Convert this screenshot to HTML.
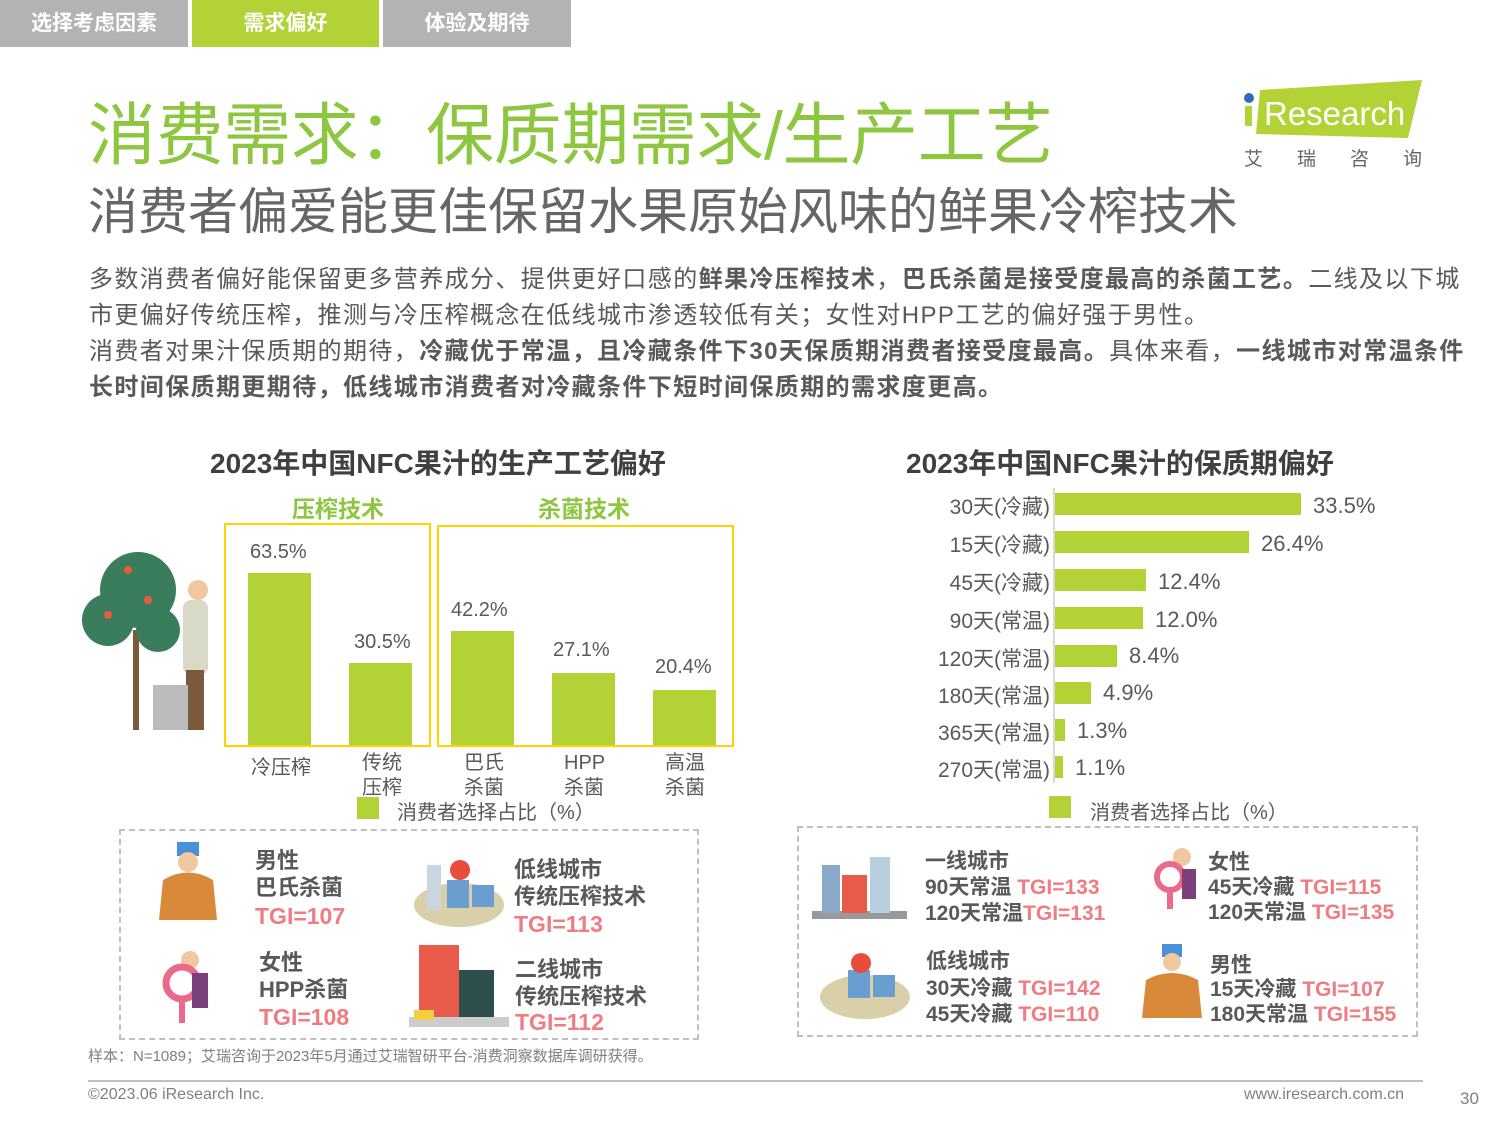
<!DOCTYPE html>
<html><head><meta charset="utf-8"><style>
*{margin:0;padding:0;box-sizing:border-box}
body{width:1500px;height:1125px;background:#fff;position:relative;overflow:hidden;font-family:"Liberation Sans","Noto Sans CJK SC",sans-serif;color:#595959}
.a{position:absolute;white-space:nowrap}
.tab{position:absolute;top:0;height:47px;color:#fff;font-weight:bold;font-size:21px;text-align:center;line-height:47px}
.bar{position:absolute;background:#b2d235}
.v{position:absolute;font-size:20px;color:#595959}
.rl{position:absolute;right:450px;font-size:21px;text-align:right;color:#595959}
.b{font-weight:bold}
.pk{color:#f07c82;font-weight:bold}
.dk{color:#595959;font-weight:bold}
</style></head><body>
<div class="tab" style="left:0;width:188px;background:#b3b3b3">选择考虑因素</div>
<div class="tab" style="left:192px;width:187px;background:#b2d235">需求偏好</div>
<div class="tab" style="left:383px;width:188px;background:#b3b3b3">体验及期待</div>

<div class="a" style="left:88px;top:80px;font-size:68px;color:#8dc63f;letter-spacing:-0.4px">消费需求：保质期需求/生产工艺</div>
<div class="a" style="left:88px;top:172px;font-size:50px;color:#666">消费者偏爱能更佳保留水果原始风味的鲜果冷榨技术</div>

<svg class="a" style="left:1240px;top:78px" width="190" height="60"><polygon points="20,12 182,2 168,60 16,56" fill="#b2d235"/><circle cx="9" cy="20" r="5" fill="#2e6db4"/><rect x="5" y="28" width="7" height="20" fill="#b2d235"/><text x="24" y="47" font-size="33" fill="#fff" font-family="Liberation Sans">Research</text></svg>
<div class="a" style="left:1244px;top:144px;font-size:19px;color:#666;letter-spacing:34px">艾瑞咨询</div>

<div class="a" style="left:89px;top:262px;font-size:24px;letter-spacing:1.4px;line-height:36px;color:#595959">多数消费者偏好能保留更多营养成分、提供更好口感的<span class="b">鲜果冷压榨技术</span>，<span class="b">巴氏杀菌是接受度最高的杀菌工艺。</span>二线及以下城<br>市更偏好传统压榨，推测与冷压榨概念在低线城市渗透较低有关；女性对HPP工艺的偏好强于男性。<br>消费者对果汁保质期的期待，<span class="b">冷藏优于常温，且冷藏条件下30天保质期消费者接受度最高。</span>具体来看，<span class="b">一线城市对常温条件</span><br><span class="b">长时间保质期更期待，低线城市消费者对冷藏条件下短时间保质期的需求度更高。</span></div>

<div class="a b" style="left:210px;top:442px;font-size:28px;color:#404040">2023年中国NFC果汁的生产工艺偏好</div>
<div class="a b" style="left:906px;top:442px;font-size:28px;color:#404040">2023年中国NFC果汁的保质期偏好</div>

<div class="a b" style="left:292px;top:490px;font-size:23px;color:#8dc63f">压榨技术</div>
<div class="a b" style="left:538px;top:490px;font-size:23px;color:#8dc63f">杀菌技术</div>
<div class="a" style="left:224px;top:523px;width:207px;height:224px;border:2px solid #ffd200"></div>
<div class="a" style="left:437px;top:525px;width:297px;height:222px;border:2px solid #ffd200"></div>
<div class="bar" style="left:248px;top:573px;width:63px;height:172px"></div>
<div class="bar" style="left:349px;top:663px;width:63px;height:82px"></div>
<div class="bar" style="left:451px;top:631px;width:63px;height:114px"></div>
<div class="bar" style="left:552px;top:673px;width:63px;height:72px"></div>
<div class="bar" style="left:653px;top:690px;width:63px;height:55px"></div>
<div class="v" style="left:250px;top:541px">63.5%</div>
<div class="v" style="left:354px;top:631px">30.5%</div>
<div class="v" style="left:451px;top:599px">42.2%</div>
<div class="v" style="left:553px;top:639px">27.1%</div>
<div class="v" style="left:655px;top:656px">20.4%</div>
<div class="v" style="left:251px;top:751px">冷压榨</div>
<div class="v" style="left:362px;top:751px;line-height:25px">传统<br>压榨</div>
<div class="v" style="left:464px;top:751px;line-height:25px">巴氏<br>杀菌</div>
<div class="v" style="left:564px;top:751px;line-height:25px">HPP<br>杀菌</div>
<div class="v" style="left:665px;top:751px;line-height:25px">高温<br>杀菌</div>
<div class="a" style="left:357px;top:797px;width:22px;height:22px;background:#b2d235"></div>
<div class="v" style="left:397px;top:796px">消费者选择占比（%）</div>
<svg class="a" style="left:78px;top:540px" width="140" height="195"><rect x="55" y="90" width="6" height="100" fill="#7a5a3a"/><circle cx="60" cy="50" r="38" fill="#3a7d5c"/><circle cx="30" cy="80" r="26" fill="#3a7d5c"/><circle cx="80" cy="90" r="22" fill="#3a7d5c"/><circle cx="50" cy="30" r="4" fill="#e85a3c"/><circle cx="70" cy="60" r="4" fill="#e85a3c"/><circle cx="30" cy="75" r="4" fill="#e85a3c"/><rect x="105" y="60" width="25" height="75" rx="8" fill="#d9d9c8"/><circle cx="120" cy="50" r="10" fill="#f0c8a0"/><rect x="108" y="130" width="18" height="60" fill="#7a5a3a"/><rect x="75" y="145" width="35" height="45" fill="#bbb"/></svg>

<div class="a" style="left:119px;top:829px;width:580px;height:211px;border:2px dashed #bfbfbf"></div>
<svg class="a" style="left:155px;top:840px" width="70" height="95"><rect x="22" y="2" width="22" height="14" fill="#4a90d9"/><circle cx="33" cy="22" r="10" fill="#f0c8a0"/><path d="M8 40 Q33 25 58 40 L62 80 L4 80Z" fill="#d9893a"/></svg>
<svg class="a" style="left:160px;top:945px" width="60" height="92"><circle cx="30" cy="15" r="9" fill="#f0c8a0"/><circle cx="22" cy="38" r="16" fill="none" stroke="#e96a8a" stroke-width="7"/><rect x="19" y="52" width="6" height="26" fill="#e96a8a"/><rect x="32" y="28" width="16" height="35" fill="#7b3f7a"/></svg>
<svg class="a" style="left:412px;top:850px" width="95" height="80"><ellipse cx="47" cy="55" rx="45" ry="22" fill="#d9cfa8"/><rect x="15" y="15" width="14" height="45" fill="#c9d6e0"/><rect x="35" y="30" width="22" height="28" fill="#6a9ed0"/><rect x="60" y="35" width="22" height="22" fill="#6a9ed0"/><circle cx="48" cy="20" r="10" fill="#e74c3c"/></svg>
<svg class="a" style="left:409px;top:935px" width="100" height="95"><rect x="10" y="10" width="40" height="75" fill="#e85a4a"/><rect x="50" y="35" width="35" height="50" fill="#2f4f4f"/><rect x="0" y="82" width="100" height="10" fill="#ccc"/><rect x="5" y="75" width="20" height="10" fill="#f0d040"/></svg>
<div class="a dk" style="left:255px;top:847px;font-size:22px;line-height:27px">男性<br>巴氏杀菌</div>
<div class="a pk" style="left:255px;top:903px;font-size:23px">TGI=107</div>
<div class="a dk" style="left:259px;top:949px;font-size:22px;line-height:27px">女性<br>HPP杀菌</div>
<div class="a pk" style="left:259px;top:1004px;font-size:23px">TGI=108</div>
<div class="a dk" style="left:514px;top:856px;font-size:22px;line-height:27px">低线城市<br>传统压榨技术</div>
<div class="a pk" style="left:514px;top:911px;font-size:23px">TGI=113</div>
<div class="a dk" style="left:515px;top:956px;font-size:22px;line-height:27px">二线城市<br>传统压榨技术</div>
<div class="a pk" style="left:515px;top:1009px;font-size:23px">TGI=112</div>
<div class="a" style="left:88px;top:1045px;font-size:15px;color:#7f7f7f">样本：N=1089；艾瑞咨询于2023年5月通过艾瑞智研平台-消费洞察数据库调研获得。</div>

<div class="a" style="left:1053px;top:488px;width:2px;height:295px;background:#d9d9d9"></div>
<div class="rl" style="top:491px">30天(冷藏)</div>
<div class="rl" style="top:529px">15天(冷藏)</div>
<div class="rl" style="top:567px">45天(冷藏)</div>
<div class="rl" style="top:605px">90天(常温)</div>
<div class="rl" style="top:643px">120天(常温)</div>
<div class="rl" style="top:680px">180天(常温)</div>
<div class="rl" style="top:717px">365天(常温)</div>
<div class="rl" style="top:754px">270天(常温)</div>
<div class="bar" style="left:1055px;top:493px;width:246px;height:22px"></div>
<div class="bar" style="left:1055px;top:531px;width:194px;height:22px"></div>
<div class="bar" style="left:1055px;top:569px;width:91px;height:22px"></div>
<div class="bar" style="left:1055px;top:607px;width:88px;height:22px"></div>
<div class="bar" style="left:1055px;top:645px;width:62px;height:22px"></div>
<div class="bar" style="left:1055px;top:682px;width:36px;height:22px"></div>
<div class="bar" style="left:1055px;top:719px;width:10px;height:22px"></div>
<div class="bar" style="left:1055px;top:756px;width:8px;height:22px"></div>
<div class="v" style="left:1313px;top:493px;font-size:22px">33.5%</div>
<div class="v" style="left:1261px;top:531px;font-size:22px">26.4%</div>
<div class="v" style="left:1158px;top:569px;font-size:22px">12.4%</div>
<div class="v" style="left:1155px;top:607px;font-size:22px">12.0%</div>
<div class="v" style="left:1129px;top:643px;font-size:22px">8.4%</div>
<div class="v" style="left:1103px;top:680px;font-size:22px">4.9%</div>
<div class="v" style="left:1077px;top:718px;font-size:22px">1.3%</div>
<div class="v" style="left:1075px;top:755px;font-size:22px">1.1%</div>
<div class="a" style="left:1049px;top:796px;width:22px;height:22px;background:#b2d235"></div>
<div class="v" style="left:1090px;top:796px">消费者选择占比（%）</div>

<div class="a" style="left:797px;top:826px;width:621px;height:211px;border:2px dashed #bfbfbf"></div>
<svg class="a" style="left:812px;top:845px" width="95" height="75"><rect x="0" y="66" width="95" height="8" fill="#999"/><rect x="10" y="20" width="18" height="48" fill="#8aa8c8"/><rect x="30" y="30" width="25" height="38" fill="#e85a4a"/><rect x="58" y="12" width="20" height="56" fill="#b8cfe0"/></svg>
<svg class="a" style="left:818px;top:945px" width="95" height="75"><ellipse cx="47" cy="52" rx="45" ry="22" fill="#d9cfa8"/><rect x="30" y="25" width="22" height="28" fill="#6a9ed0"/><rect x="55" y="30" width="22" height="22" fill="#6a9ed0"/><circle cx="43" cy="18" r="10" fill="#e74c3c"/></svg>
<svg class="a" style="left:1152px;top:845px" width="55" height="80"><circle cx="30" cy="12" r="9" fill="#f0c8a0"/><circle cx="18" cy="32" r="13" fill="none" stroke="#e96a8a" stroke-width="6"/><rect x="15" y="44" width="6" height="20" fill="#e96a8a"/><rect x="30" y="24" width="14" height="30" fill="#7b3f7a"/></svg>
<svg class="a" style="left:1140px;top:942px" width="68" height="90"><rect x="22" y="2" width="20" height="13" fill="#4a90d9"/><circle cx="32" cy="20" r="9" fill="#f0c8a0"/><path d="M6 38 Q32 24 58 38 L62 76 L2 76Z" fill="#d9893a"/></svg>
<div class="a dk" style="left:925px;top:845px;font-size:21px">一线城市</div>
<div class="a" style="left:925px;top:871px;font-size:21px"><span class="dk">90天常温 </span><span class="pk">TGI=133</span></div>
<div class="a" style="left:925px;top:897px;font-size:21px"><span class="dk">120天常温</span><span class="pk">TGI=131</span></div>
<div class="a dk" style="left:1208px;top:846px;font-size:21px">女性</div>
<div class="a" style="left:1208px;top:871px;font-size:21px"><span class="dk">45天冷藏 </span><span class="pk">TGI=115</span></div>
<div class="a" style="left:1208px;top:896px;font-size:21px"><span class="dk">120天常温 </span><span class="pk">TGI=135</span></div>
<div class="a dk" style="left:926px;top:945px;font-size:21px">低线城市</div>
<div class="a" style="left:926px;top:972px;font-size:21px"><span class="dk">30天冷藏 </span><span class="pk">TGI=142</span></div>
<div class="a" style="left:926px;top:998px;font-size:21px"><span class="dk">45天冷藏 </span><span class="pk">TGI=110</span></div>
<div class="a dk" style="left:1210px;top:949px;font-size:21px">男性</div>
<div class="a" style="left:1210px;top:973px;font-size:21px"><span class="dk">15天冷藏 </span><span class="pk">TGI=107</span></div>
<div class="a" style="left:1210px;top:998px;font-size:21px"><span class="dk">180天常温 </span><span class="pk">TGI=155</span></div>

<div class="a" style="left:88px;top:1080px;width:1335px;height:2px;background:#bfbfbf"></div>
<div class="a" style="left:88px;top:1086px;font-size:16px;color:#7f7f7f">©2023.06 iResearch Inc.</div>
<div class="a" style="left:1244px;top:1086px;font-size:16px;color:#7f7f7f">www.iresearch.com.cn</div>
<div class="a" style="left:1460px;top:1089px;font-size:17px;color:#7f7f7f">30</div>
</body></html>
